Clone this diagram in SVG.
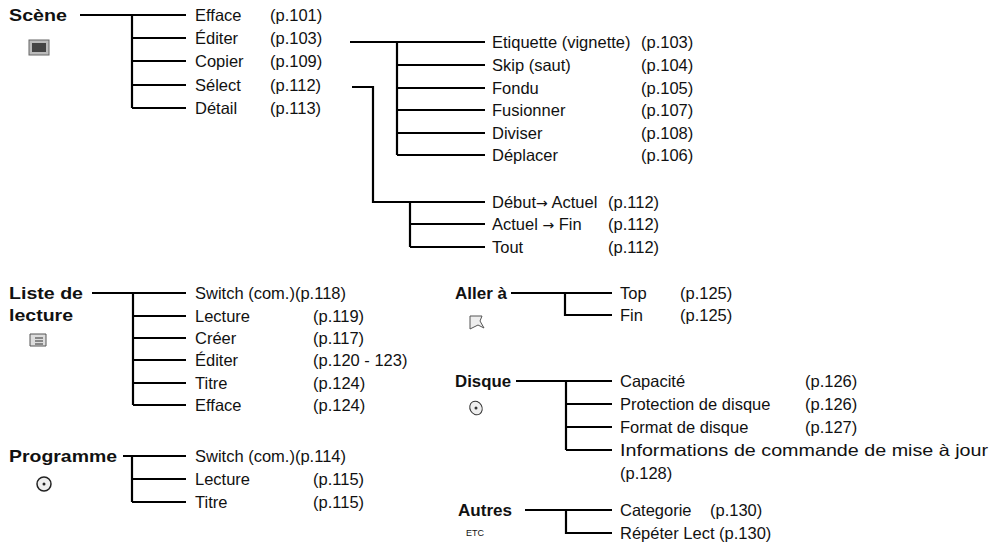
<svg xmlns="http://www.w3.org/2000/svg" width="995" height="542" viewBox="0 0 995 542">
<style>
text{font-family:"Liberation Sans",Arial,sans-serif;font-size:16.5px;fill:#111}
.h{font-weight:bold;font-size:16.5px}
.a{font-family:"DejaVu Sans",sans-serif;font-size:14px}
.c path{fill:none;stroke:#000;stroke-width:2.2}
</style>
<rect width="995" height="542" fill="#fff"/>
<g class="c" id="connectors">
<path d="M80 15H186M132 15V108M132 38H186M132 61H186M132 85H186M132 108H186"/>
<path d="M350 42H485M397 42V155M397 65H485M397 88H485M397 110H485M397 133H485M397 155H485"/>
<path d="M352 87H373V202H485M410 202V247M410 224H485M410 247H485"/>
<path d="M92 293H186M133 293V405M133 316H186M133 338H186M133 360H186M133 383H186M133 405H186"/>
<path d="M123 456H186M132 456V502M132 479H186M132 502H186"/>
<path d="M511 293H612M565 293V315H612"/>
<path d="M516 381H612M566 381V450M566 404H612M566 427H612M566 450H612"/>
<path d="M525 510H612M566 510V533H612"/>
</g>
<g id="scene"><text class="h" x="9" y="21" textLength="58" lengthAdjust="spacingAndGlyphs">Scène</text>
<rect x="29" y="40" width="20" height="15" fill="#bbb" stroke="#666"/><rect x="32" y="43" width="14" height="9" fill="#444"/></g>
<g id="scene-items">
<text x="195" y="21">Efface</text><text x="270" y="21">(p.101)</text>
<text x="195" y="44">Éditer</text><text x="270" y="44">(p.103)</text>
<text x="195" y="67">Copier</text><text x="270" y="67">(p.109)</text>
<text x="195" y="91">Sélect</text><text x="270" y="91">(p.112)</text>
<text x="195" y="114">Détail</text><text x="270" y="114">(p.113)</text>
</g>
<g id="editer-items">
<text x="492" y="48">Etiquette (vignette)</text><text x="641" y="48">(p.103)</text>
<text x="492" y="71">Skip (saut)</text><text x="641" y="71">(p.104)</text>
<text x="492" y="94">Fondu</text><text x="641" y="94">(p.105)</text>
<text x="492" y="116">Fusionner</text><text x="641" y="116">(p.107)</text>
<text x="492" y="139">Diviser</text><text x="641" y="139">(p.108)</text>
<text x="492" y="161">Déplacer</text><text x="641" y="161">(p.106)</text>
</g>
<g id="select-items">
<text x="492" y="208">Début<tspan class="a">→</tspan> Actuel</text><text x="608" y="208">(p.112)</text>
<text x="492" y="230">Actuel <tspan class="a">→</tspan> Fin</text><text x="608" y="230">(p.112)</text>
<text x="492" y="253">Tout</text><text x="608" y="253">(p.112)</text>
</g>
<g id="liste"><text class="h" x="9" y="299" textLength="74" lengthAdjust="spacingAndGlyphs">Liste de</text><text class="h" x="9" y="321" textLength="64" lengthAdjust="spacingAndGlyphs">lecture</text>
<path d="M30 334h16v12h-16z" fill="#ddd" stroke="#555"/><path d="M35 338h8M35 341h8M35 344h8" stroke="#333"/></g>
<g id="liste-items">
<text x="195" y="299">Switch (com.)(p.118)</text>
<text x="195" y="322">Lecture</text><text x="313" y="322">(p.119)</text>
<text x="195" y="344">Créer</text><text x="313" y="344">(p.117)</text>
<text x="195" y="366">Éditer</text><text x="313" y="366">(p.120 - 123)</text>
<text x="195" y="389">Titre</text><text x="313" y="389">(p.124)</text>
<text x="195" y="411">Efface</text><text x="313" y="411">(p.124)</text>
</g>
<g id="programme"><text class="h" x="9" y="462" textLength="108" lengthAdjust="spacingAndGlyphs">Programme</text>
<circle cx="44" cy="484" r="7" fill="#eee" stroke="#222" stroke-width="1.5"/><circle cx="44" cy="484" r="1.5" fill="#222"/></g>
<g id="programme-items">
<text x="195" y="462">Switch (com.)(p.114)</text>
<text x="195" y="485">Lecture</text><text x="313" y="485">(p.115)</text>
<text x="195" y="508">Titre</text><text x="313" y="508">(p.115)</text>
</g>
<g id="aller"><text class="h" x="455" y="299" textLength="52" lengthAdjust="spacingAndGlyphs">Aller à</text>
<path d="M470 316h12l-2 5 4 7-6-3-8 4z" fill="#eee" stroke="#555"/></g>
<g id="aller-items">
<text x="620" y="299">Top</text><text x="680" y="299">(p.125)</text>
<text x="620" y="321">Fin</text><text x="680" y="321">(p.125)</text>
</g>
<g id="disque"><text class="h" x="455" y="387" textLength="56" lengthAdjust="spacingAndGlyphs">Disque</text>
<ellipse cx="476" cy="408" rx="6" ry="7" fill="#eee" stroke="#333" transform="rotate(-30 476 408)"/><circle cx="476" cy="408" r="1.5" fill="#333"/></g>
<g id="disque-items">
<text x="620" y="387">Capacité</text><text x="805" y="387">(p.126)</text>
<text x="620" y="410">Protection de disque</text><text x="805" y="410">(p.126)</text>
<text x="620" y="433">Format de disque</text><text x="805" y="433">(p.127)</text>
<text x="620" y="456" textLength="368" lengthAdjust="spacingAndGlyphs">Informations de commande de mise à jour</text>
<text x="620" y="479">(p.128)</text>
</g>
<g id="autres"><text class="h" x="458" y="516" textLength="54" lengthAdjust="spacingAndGlyphs">Autres</text><text x="466" y="536" style="font-size:9px">ETC</text></g>
<g id="autres-items">
<text x="620" y="516">Categorie</text><text x="710" y="516">(p.130)</text>
<text x="620" y="539">Répéter Lect (p.130)</text>
</g>
</svg>
